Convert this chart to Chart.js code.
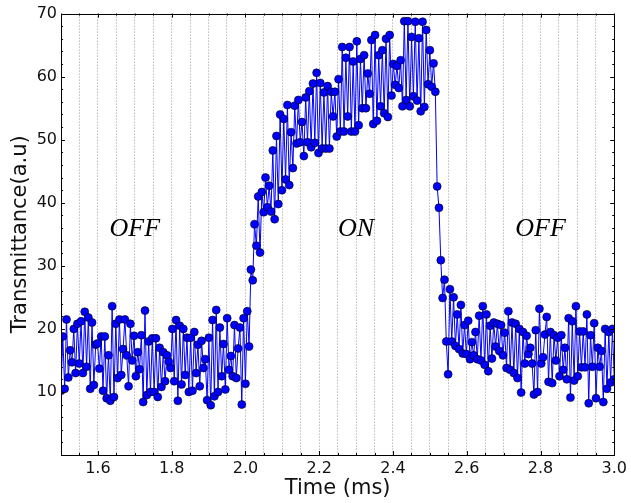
<!DOCTYPE html>
<html>
<head>
<meta charset="utf-8">
<script src="https://cdn.jsdelivr.net/npm/chart.js@4.4.0/dist/chart.umd.min.js"></script>
<style>
    html, body { margin: 0; padding: 0; background: #fff; }
    #wrap { width: 631px; height: 503px; }
</style>
</head>
<body>
<div id="wrap"><canvas id="chart" width="631" height="503"></canvas></div>
<script>
// ============================================
// DATA (read off the scope trace, evenly sampled 1.5 .. 3.0 ms)
// ============================================
const T_START = 1.5;
const T_END = 3.0;

const offBefore = [
    10.2, 18.8, 10.5, 21.5, 12.3, 16.6, 14.7, 20.0, 13.0, 20.8,
    14.5, 21.2, 13.0, 22.7, 14.0, 21.8, 10.5, 21.0, 11.1, 17.5,
    17.7, 13.7, 18.8, 10.2, 18.8, 9.0, 15.8, 8.6, 23.6, 9.2,
    20.8, 12.2, 21.5, 12.7, 16.8, 21.5, 15.8, 10.9, 20.8, 15.0,
    18.9, 12.5, 16.3, 13.6, 19.0, 8.4, 22.9, 9.5, 18.0, 10.0,
    18.5, 10.0, 18.5, 9.2, 17.0, 10.8, 16.3, 11.7, 15.8, 14.8,
    13.8, 20.0, 11.7, 21.4, 8.6, 20.5, 11.2, 20.0, 12.7, 18.6,
    10.0, 18.6, 10.2, 19.5, 13.0, 17.5, 10.9, 18.1, 13.8, 15.2,
    8.7, 18.6, 7.9, 21.4, 9.3, 23.0, 10.0, 20.2, 12.5, 17.6,
    10.4, 21.7, 13.5, 15.7, 12.5, 20.6, 12.2, 16.9
];

const switchOn = [
    20.2, 8.0, 21.7, 11.3, 22.8, 17.2, 29.4, 27.7, 36.6, 33.2,
    41.0, 32.1, 41.7, 38.5, 44.0, 39.3, 42.7, 38.6
];

const onState = [
    48.3, 37.4, 50.6, 39.8, 54.0, 42.0, 53.3, 43.7, 55.5, 42.8,
    51.2, 45.5, 55.4, 49.4, 56.3, 49.6, 52.8, 47.4, 56.7, 49.6,
    57.7, 48.8, 58.9, 49.5, 60.6, 47.9, 59.0, 48.6, 57.5, 48.6,
    58.5, 48.6, 57.6, 53.7, 57.6, 50.5, 59.6, 51.3, 64.7, 51.3,
    63.0, 53.7, 64.7, 51.3, 62.4, 51.3, 65.6, 52.3, 62.8, 55.0,
    63.4, 55.0, 60.5, 57.3, 65.8, 52.5, 66.6, 53.0, 63.4, 55.3,
    64.2, 54.2, 66.0, 53.6, 66.6, 57.0, 62.0, 58.7, 61.7, 58.2,
    62.6, 55.3, 68.8, 56.3, 68.8, 55.3, 66.3, 56.9, 68.7, 56.2,
    66.1, 54.5, 68.7, 55.2, 67.4, 58.8, 64.2, 58.4, 62.1, 57.6
];

const switchOff = [
    42.6, 39.2, 30.9, 24.9, 27.8, 18.0, 12.8, 26.3, 18.0, 25.0,
    17.3, 22.3, 16.8, 23.8, 16.1, 20.6, 16.0, 21.3, 15.2, 17.9,
    15.8, 19.5, 15.2, 22.1, 15.0, 23.6, 14.3, 22.3, 13.3, 20.5,
    15.3, 21.0, 17.2, 20.8, 16.5, 20.6, 15.8, 19.4, 13.8, 22.8,
    13.5, 21.0, 13.0, 20.8, 12.2
];

const offAfter = [
    20.0, 9.9, 19.5, 14.5, 18.9, 16.0, 17.0, 14.5, 9.6, 19.8,
    10.0, 23.2, 14.5, 15.5, 19.1, 21.9, 11.6, 19.5, 11.4, 19.0,
    15.0, 18.6, 12.5, 19.0, 13.5, 17.0, 12.0, 21.7, 9.1, 21.2,
    11.8, 23.6, 12.5, 19.6, 13.9, 19.6, 13.9, 22.3, 8.2, 19.0,
    14.0, 20.9, 9.0, 17.0, 14.0, 16.5, 8.4, 20.0, 10.5, 19.5,
    11.5, 20.0, 12.0
];

const xLabelTicks = [1.6, 1.8, 2.0, 2.2, 2.4, 2.6, 2.8, 3.0];
const yLabelTicks = [10, 20, 30, 40, 50, 60, 70];

const stateNames = ['OFF', 'ON', 'OFF'];
const stateAt = [[1.70, 34.7], [2.30, 34.7], [2.80, 34.7]];

// ============================================
// BUILD SERIES
// ============================================
const values = [...offBefore, ...switchOn, ...onState, ...switchOff, ...offAfter];
const dt = (T_END - T_START) / (values.length - 1);
const points = values.map((v, i) => ({ x: T_START + i * dt, y: v }));

// ============================================
// FRAME, INWARD TICKS, STATE LABELS
// ============================================
const framePlugin = {
    id: 'framePlugin',
    afterDraw(chart) {
        const { ctx, chartArea: a, scales: { x, y } } = chart;
        ctx.save();
        ctx.strokeStyle = '#000';
        ctx.lineWidth = 1;

        ctx.beginPath();
        // x ticks: minor every 0.05, major on labels
        for (let k = 0; k <= 30; k++) {
            const v = T_START + k * 0.05;
            const px = Math.round(x.getPixelForValue(v)) + 0.5;
            const major = xLabelTicks.some(t => Math.abs(t - v) < 1e-6);
            const len = major ? 4 : 2;
            ctx.moveTo(px, a.bottom); ctx.lineTo(px, a.bottom - len);
            ctx.moveTo(px, a.top); ctx.lineTo(px, a.top + len);
        }
        // y ticks: minor every 2, major every 10
        for (let v = 0; v <= 70; v += 2) {
            const py = Math.round(y.getPixelForValue(v)) + 0.5;
            const len = v % 10 === 0 ? 4 : 2;
            ctx.moveTo(a.left, py); ctx.lineTo(a.left + len, py);
            ctx.moveTo(a.right, py); ctx.lineTo(a.right - len, py);
        }
        ctx.stroke();

        ctx.strokeRect(Math.round(a.left) + 0.5, Math.round(a.top) + 0.5,
            Math.round(a.right - a.left), Math.round(a.bottom - a.top));

        ctx.fillStyle = '#000';
        ctx.font = 'italic 26px "Liberation Serif"';
        ctx.textAlign = 'center';
        ctx.textBaseline = 'alphabetic';
        stateNames.forEach((name, i) => {
            ctx.fillText(name, x.getPixelForValue(stateAt[i][0]), y.getPixelForValue(stateAt[i][1]));
        });
        ctx.restore();
    }
};

// ============================================
// CHART
// ============================================
new Chart(document.getElementById('chart'), {
    type: 'line',
    data: {
        datasets: [{
            data: points,
            borderColor: '#0000ff',
            borderWidth: 1,
            backgroundColor: '#0000ff',
            pointRadius: 4,
            pointBorderColor: '#000',
            pointBorderWidth: 0.6,
            pointBackgroundColor: '#0000ff',
            tension: 0,
            fill: false
        }]
    },
    options: {
        responsive: false,
        animation: false,
        devicePixelRatio: 1,
        layout: { padding: { left: 0, right: 13, top: 13, bottom: 0 } },
        plugins: { legend: { display: false }, tooltip: { enabled: false } },
        scales: {
            x: {
                type: 'linear',
                min: 1.5,
                max: 3.0,
                afterFit(scale) { scale.height = 48; },
                ticks: {
                    stepSize: 0.05,
                    autoSkip: false,
                    maxRotation: 0,
                    padding: 4,
                    color: '#111',
                    font: { family: 'DejaVu Sans', size: 16 },
                    callback(value) {
                        const hit = xLabelTicks.find(t => Math.abs(t - value) < 1e-6);
                        return hit === undefined ? '' : hit.toFixed(1);
                    }
                },
                grid: { color: '#9a9a9a', lineWidth: 1, drawTicks: false },
                border: { display: false, dash: [1, 2] },
                title: {
                    display: true,
                    text: 'Time (ms)',
                    color: '#111',
                    font: { family: 'DejaVu Sans', size: 21 },
                    padding: { top: 0, bottom: 2 }
                }
            },
            y: {
                min: 0,
                max: 70,
                afterFit(scale) { scale.width = 61; },
                ticks: {
                    stepSize: 10,
                    padding: 4,
                    color: '#111',
                    font: { family: 'DejaVu Sans', size: 16 },
                    callback(value) {
                        return yLabelTicks.includes(value) ? String(value) : '';
                    }
                },
                grid: { display: false, drawTicks: false },
                border: { display: false },
                title: {
                    display: true,
                    text: 'Transmittance(a.u)',
                    color: '#111',
                    font: { family: 'DejaVu Sans', size: 21 },
                    padding: { top: 8, bottom: 0 }
                }
            }
        }
    },
    plugins: [framePlugin]
});
</script>
</body>
</html>
